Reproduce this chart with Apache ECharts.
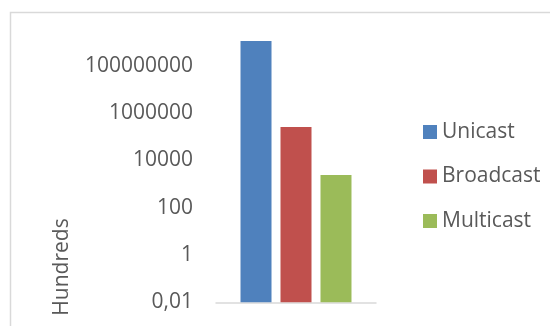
<!DOCTYPE html>
<html><head><meta charset="utf-8">
<script src="https://cdn.jsdelivr.net/npm/echarts@6/dist/echarts.min.js"></script>
<style>html,body{margin:0;padding:0;background:#fff}#c{width:550px;height:326px}</style>
</head><body><div id="c"></div>
<script>
const categories = [''];
const seriesNames = ['Unicast', 'Broadcast', 'Multicast'];
const unicast = [1.14e9];
const broadcast = [2.62e5];
const multicast = [2440];
const yTickLabels = ['0,01', '1', '100', '10000', '1000000', '100000000'];
const axisMin = 0.01;
const axisMax = 1e10;
const colors = ['#4F81BD', '#C0504D', '#9BBB59'];
const seriesData = [unicast, broadcast, multicast];

const FONT = 'Open Sans';
const series = [];
seriesNames.forEach((n, k) => {
  // invisible base so each bar starts at the axis minimum on the log axis
  series.push({
    name: '_base' + k, type: 'bar', stack: 's' + k, barWidth: 31, barGap: '29%',
    data: categories.map(() => axisMin),
    itemStyle: {color: 'rgba(0,0,0,0)'}, silent: true
  });
  series.push({
    name: n, type: 'bar', stack: 's' + k, barWidth: 31, barGap: '29%',
    data: seriesData[k].map(v => v - axisMin),
    itemStyle: {color: colors[k]}
  });
});

const chart = echarts.init(document.getElementById('c'), null, {renderer: 'canvas'});
chart.setOption({
  animation: false,
  backgroundColor: '#fff',
  textStyle: {fontFamily: FONT},
  graphic: [
    {type: 'rect', shape: {x: 10.5, y: 12.5, width: 600, height: 400},
     style: {fill: 'none', stroke: '#D9D9D9', lineWidth: 1.5}, silent: true, z: -10},
    {type: 'text', x: 62, y: 267, rotation: Math.PI / 2,
     style: {text: 'Hundreds', fill: '#595959', font: '21px "' + FONT + '"',
             textAlign: 'center', textVerticalAlign: 'middle'}}
  ],
  legend: {
    orient: 'vertical', left: 418, top: 116,
    itemWidth: 14, itemHeight: 14, itemGap: 22.5, icon: 'rect',
    textStyle: {color: '#595959', fontSize: 21, lineHeight: 22, fontFamily: FONT},
    data: seriesNames
  },
  grid: {left: 216, right: 174, top: 18.7, bottom: 23.7, containLabel: false},
  xAxis: {
    type: 'category', data: categories,
    axisLine: {lineStyle: {color: '#D9D9D9', width: 1.5}},
    axisTick: {show: false}, axisLabel: {show: false}
  },
  yAxis: {
    type: 'log', logBase: 100, min: axisMin, max: axisMax,
    axisLine: {show: false}, axisTick: {show: false}, splitLine: {show: false},
    axisLabel: {
      color: '#595959', fontSize: 21, fontFamily: FONT, margin: 23,
      formatter: (v, i) => (yTickLabels[i] !== undefined ? yTickLabels[i] : '')
    }
  },
  series: series
});
</script></body></html>
